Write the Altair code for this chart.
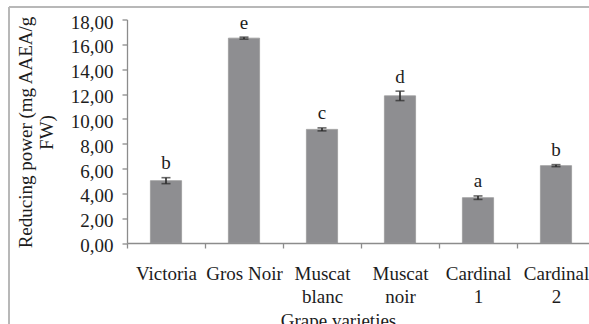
import altair as alt
import pandas as pd

# Reducing power of six grape varieties (mean ± SD) with significance letters
varieties = ["Victoria", "Gros Noir", "Muscat blanc", "Muscat noir", "Cardinal 1", "Cardinal 2"]
means = [5.02, 16.50, 9.15, 11.85, 3.65, 6.23]
errors = [0.24, 0.08, 0.12, 0.38, 0.14, 0.08]
letters = ["b", "e", "c", "d", "a", "b"]
y_ticks = [0, 2, 4, 6, 8, 10, 12, 14, 16, 18]

df = pd.DataFrame({"variety": varieties, "mean": means, "err": errors, "letter": letters})
df["lo"] = df["mean"] - df["err"]
df["hi"] = df["mean"] + df["err"]

FONT = "Liberation Serif"
FS = 19
STEP = 78
AXIS_GREY = "#8c8c8c"
INK = "#1c1c1c"

x_axis = alt.Axis(
    labelAngle=0,
    labelExpr="datum.label == 'Gros Noir' ? datum.label : split(datum.label, ' ')",
    labelLineHeight=23,
    labelBaseline="top",
    labelPadding=16,
    labelOverlap=False,
    tickOffset=-STEP / 2,
    labelOffset=STEP / 2,
    titleX=211,
    titleY=83,
    titleBaseline="alphabetic",
    titleAnchor="middle",
    titleAlign="center",
)

y_axis = alt.Axis(
    values=y_ticks,
    tickCount=10,
    labelExpr="replace(format(datum.value, '.2f'), '.', ',')",
    grid=False,
    labelPadding=9,
    labelOffset=2.5,
    labelOverlap=False,
    labelFlush=False,
    labelBound=False,
    titleAngle=-90,
    titleX=-96,
    titleY=112.5,
    titleBaseline="alphabetic",
    titleAlign="center",
    titleLineHeight=21,
)

x_enc = alt.X(
    "variety:N",
    sort=varieties,
    title="Grape varieties",
    scale=alt.Scale(range=[0, 6 * STEP], paddingInner=0.6, paddingOuter=0.3),
    axis=x_axis,
)
x_plain = alt.X("variety:N", sort=varieties)
y_scale = alt.Scale(domain=[0, 18], nice=False)
y_title = ["Reducing power (mg AAEA/g", "FW)"]

base = alt.Chart(df)

bars = base.mark_bar(color="#8e8e91", stroke="#9a9a9c", strokeWidth=0.8).encode(
    x=x_enc,
    y=alt.Y("mean:Q", scale=y_scale, axis=y_axis, title=y_title),
)

whiskers = base.mark_rule(color="#2a2a2a", strokeWidth=1.6).encode(
    x=x_plain, y=alt.Y("lo:Q", scale=y_scale, axis=y_axis, title=y_title), y2="hi:Q"
)
cap_lo = base.mark_tick(color="#2a2a2a", thickness=1.6, size=9).encode(
    x=x_plain, y=alt.Y("lo:Q", scale=y_scale, axis=y_axis, title=y_title)
)
cap_hi = base.mark_tick(color="#2a2a2a", thickness=1.6, size=9).encode(
    x=x_plain, y=alt.Y("hi:Q", scale=y_scale, axis=y_axis, title=y_title)
)

sig = base.mark_text(font=FONT, fontSize=FS, color=INK, dy=-8.5, baseline="alphabetic").encode(
    x=x_plain, y=alt.Y("hi:Q", scale=y_scale, axis=y_axis, title=y_title), text="letter:N"
)

# chart-area border (top and left edges)
frame = alt.Data(values=[{}])
frame_left = alt.Chart(frame).mark_rule(color="#b8b8b8", strokeWidth=2).encode(
    x=alt.value(-118), y=alt.value(-12.5), y2=alt.value(400)
)
frame_top = alt.Chart(frame).mark_rule(color="#b8b8b8", strokeWidth=2).encode(
    x=alt.value(-118), x2=alt.value(700), y=alt.value(-12.5)
)

chart = alt.layer(bars, whiskers, cap_lo, cap_hi, sig, frame_left, frame_top).properties(
    width=462,
    height=223.5,
    autosize=alt.AutoSizeParams(type="none"),
    padding={"left": 127, "top": 19.5, "right": 0, "bottom": 81},
    background="white",
).configure_view(stroke=None).configure_axis(
    domainColor=AXIS_GREY,
    domainWidth=1.3,
    tickColor=AXIS_GREY,
    tickWidth=1.3,
    tickSize=5,
    labelOverlap=False,
    labelFont=FONT,
    labelFontSize=FS,
    labelColor=INK,
    titleFont=FONT,
    titleFontSize=FS,
    titleFontWeight="normal",
    titleColor=INK,
)

chart.save("out.html", embed_options={"renderer": "svg", "actions": False})
